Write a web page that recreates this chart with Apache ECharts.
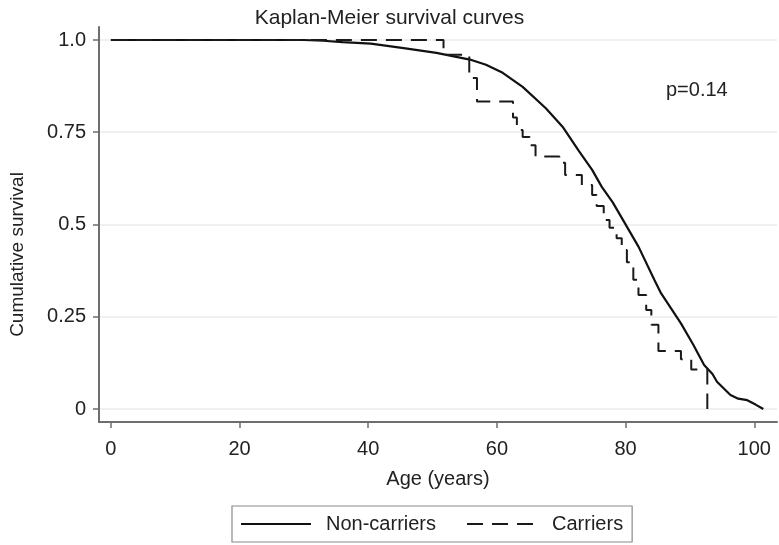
<!DOCTYPE html>
<html>
<head>
<meta charset="utf-8">
<script src="https://cdn.jsdelivr.net/npm/echarts@6/dist/echarts.min.js"></script>
<style>html,body{margin:0;padding:0;background:#fff}#chart{width:779px;height:545px}</style>
</head>
<body>
<div id="chart"></div>
<script>
// Non-carriers (solid) Kaplan-Meier estimate: age (years) and cumulative survival
const nonCarrierAge  = [0, 30, 33, 36, 40.4, 45.5, 50.6, 55.8, 58.3, 60.9, 64, 67.6, 70.2, 72.7, 74.8, 76.3, 78, 79.9, 82, 84.5, 85.5, 88.6, 90.5, 92.2, 93.5, 94.2, 96.3, 97.5, 98.9, 100.2, 101.4];
const nonCarrierSurv = [1.0, 1.0, 0.998, 0.994, 0.99, 0.978, 0.965, 0.947, 0.933, 0.911, 0.873, 0.815, 0.765, 0.70, 0.648, 0.602, 0.56, 0.503, 0.44, 0.349, 0.314, 0.232, 0.175, 0.119, 0.095, 0.074, 0.038, 0.028, 0.024, 0.012, 0.0];
// Carriers (dashed) step function: age where survival drops, survival after the drop
const carrierAge  = [0, 51.7, 55.7, 56.9, 62.5, 63.1, 64.0, 65.1, 66.0, 69.7, 70.6, 73.2, 74.8, 75.5, 76.6, 77.5, 78.6, 79.4, 80.2, 81.2, 82.0, 83.2, 84.0, 85.1, 88.6, 90.2, 92.7];
const carrierSurv = [1.0, 0.96, 0.897, 0.833, 0.79, 0.756, 0.737, 0.715, 0.684, 0.667, 0.634, 0.607, 0.58, 0.55, 0.512, 0.491, 0.463, 0.431, 0.398, 0.35, 0.309, 0.268, 0.228, 0.157, 0.135, 0.107, 0];

const xTickValues = [0, 20, 40, 60, 80, 100];
const yTickValues = [0, 0.25, 0.5, 0.75, 1];
const yTickLabels = ['0', '0.25', '0.5', '0.75', '1.0'];
const seriesNames = ['Non-carriers', 'Carriers'];
const pValueText = 'p=0.14';

const zip = (a, b) => a.map((v, i) => [v, b[i]]);
const FONT = '"Liberation Sans", Arial, sans-serif';
const TXT = '#222';

const chart = echarts.init(document.getElementById('chart'), null, {renderer: 'canvas'});
chart.setOption({
  backgroundColor: '#fff',
  animation: false,
  title: {
    text: 'Kaplan-Meier survival curves',
    left: 'center',
    top: 3,
    textStyle: {fontFamily: FONT, fontSize: 21, fontWeight: 'normal', color: TXT}
  },
  grid: {left: 92, right: 2, top: 27, bottom: 123, containLabel: false},
  xAxis: {
    type: 'value',
    min: -1.846, max: 103.53,
    name: 'Age (years)',
    nameLocation: 'middle',
    nameGap: 47,
    nameTextStyle: {fontFamily: FONT, fontSize: 20, color: TXT},
    axisLine: {show: true, onZero: false, lineStyle: {color: '#6e6e6e', width: 2}},
    axisTick: {show: true, length: 6, customValues: xTickValues, lineStyle: {color: '#6e6e6e', width: 1.5}},
    axisLabel: {customValues: xTickValues, margin: 17, fontFamily: FONT, fontSize: 20, color: TXT},
    splitLine: {show: false}
  },
  yAxis: {
    type: 'value',
    min: -0.0352, max: 1.0352,
    name: 'Cumulative survival',
    nameLocation: 'middle',
    nameGap: 72,
    nameTextStyle: {fontFamily: FONT, fontSize: 19, color: TXT, padding: [0, 60, 0, 0]},
    axisLine: {show: true, onZero: false, lineStyle: {color: '#6e6e6e', width: 2}},
    axisTick: {show: true, length: 6, customValues: yTickValues, lineStyle: {color: '#6e6e6e', width: 1.5}},
    axisLabel: {
      customValues: yTickValues, margin: 13, fontFamily: FONT, fontSize: 20, color: TXT,
      formatter: v => yTickLabels[yTickValues.indexOf(v)] ?? String(v)
    },
    splitLine: {show: true, lineStyle: {color: '#ebebeb', width: 1.5}}
  },
  legend: {
    data: seriesNames,
    left: 232, top: 506,
    orient: 'horizontal',
    itemWidth: 70, itemHeight: 14,
    itemGap: 30,
    padding: [8, 9, 8, 8],
    borderColor: '#8a8a8a', borderWidth: 1.2,
    itemStyle: {opacity: 0},
    lineStyle: {width: 2},
    textStyle: {fontFamily: FONT, fontSize: 20, color: TXT, padding: [0, 0, 0, 10]}
  },
  graphic: [{
    type: 'text', left: 666, top: 80,
    style: {text: pValueText, font: '20px ' + FONT, fill: TXT}
  }],
  series: [
    {
      name: seriesNames[0], type: 'line', data: zip(nonCarrierAge, nonCarrierSurv),
      symbol: 'none', smooth: false,
      lineStyle: {color: '#111', width: 2.2, type: 'solid'},
      itemStyle: {color: '#111'}, z: 3
    },
    {
      name: seriesNames[1], type: 'line', data: zip(carrierAge, carrierSurv),
      symbol: 'none', step: 'end',
      lineStyle: {color: '#1a1a1a', width: 2, type: [16, 9]},
      itemStyle: {color: '#1a1a1a'}, z: 4
    }
  ]
});
</script>
</body>
</html>
